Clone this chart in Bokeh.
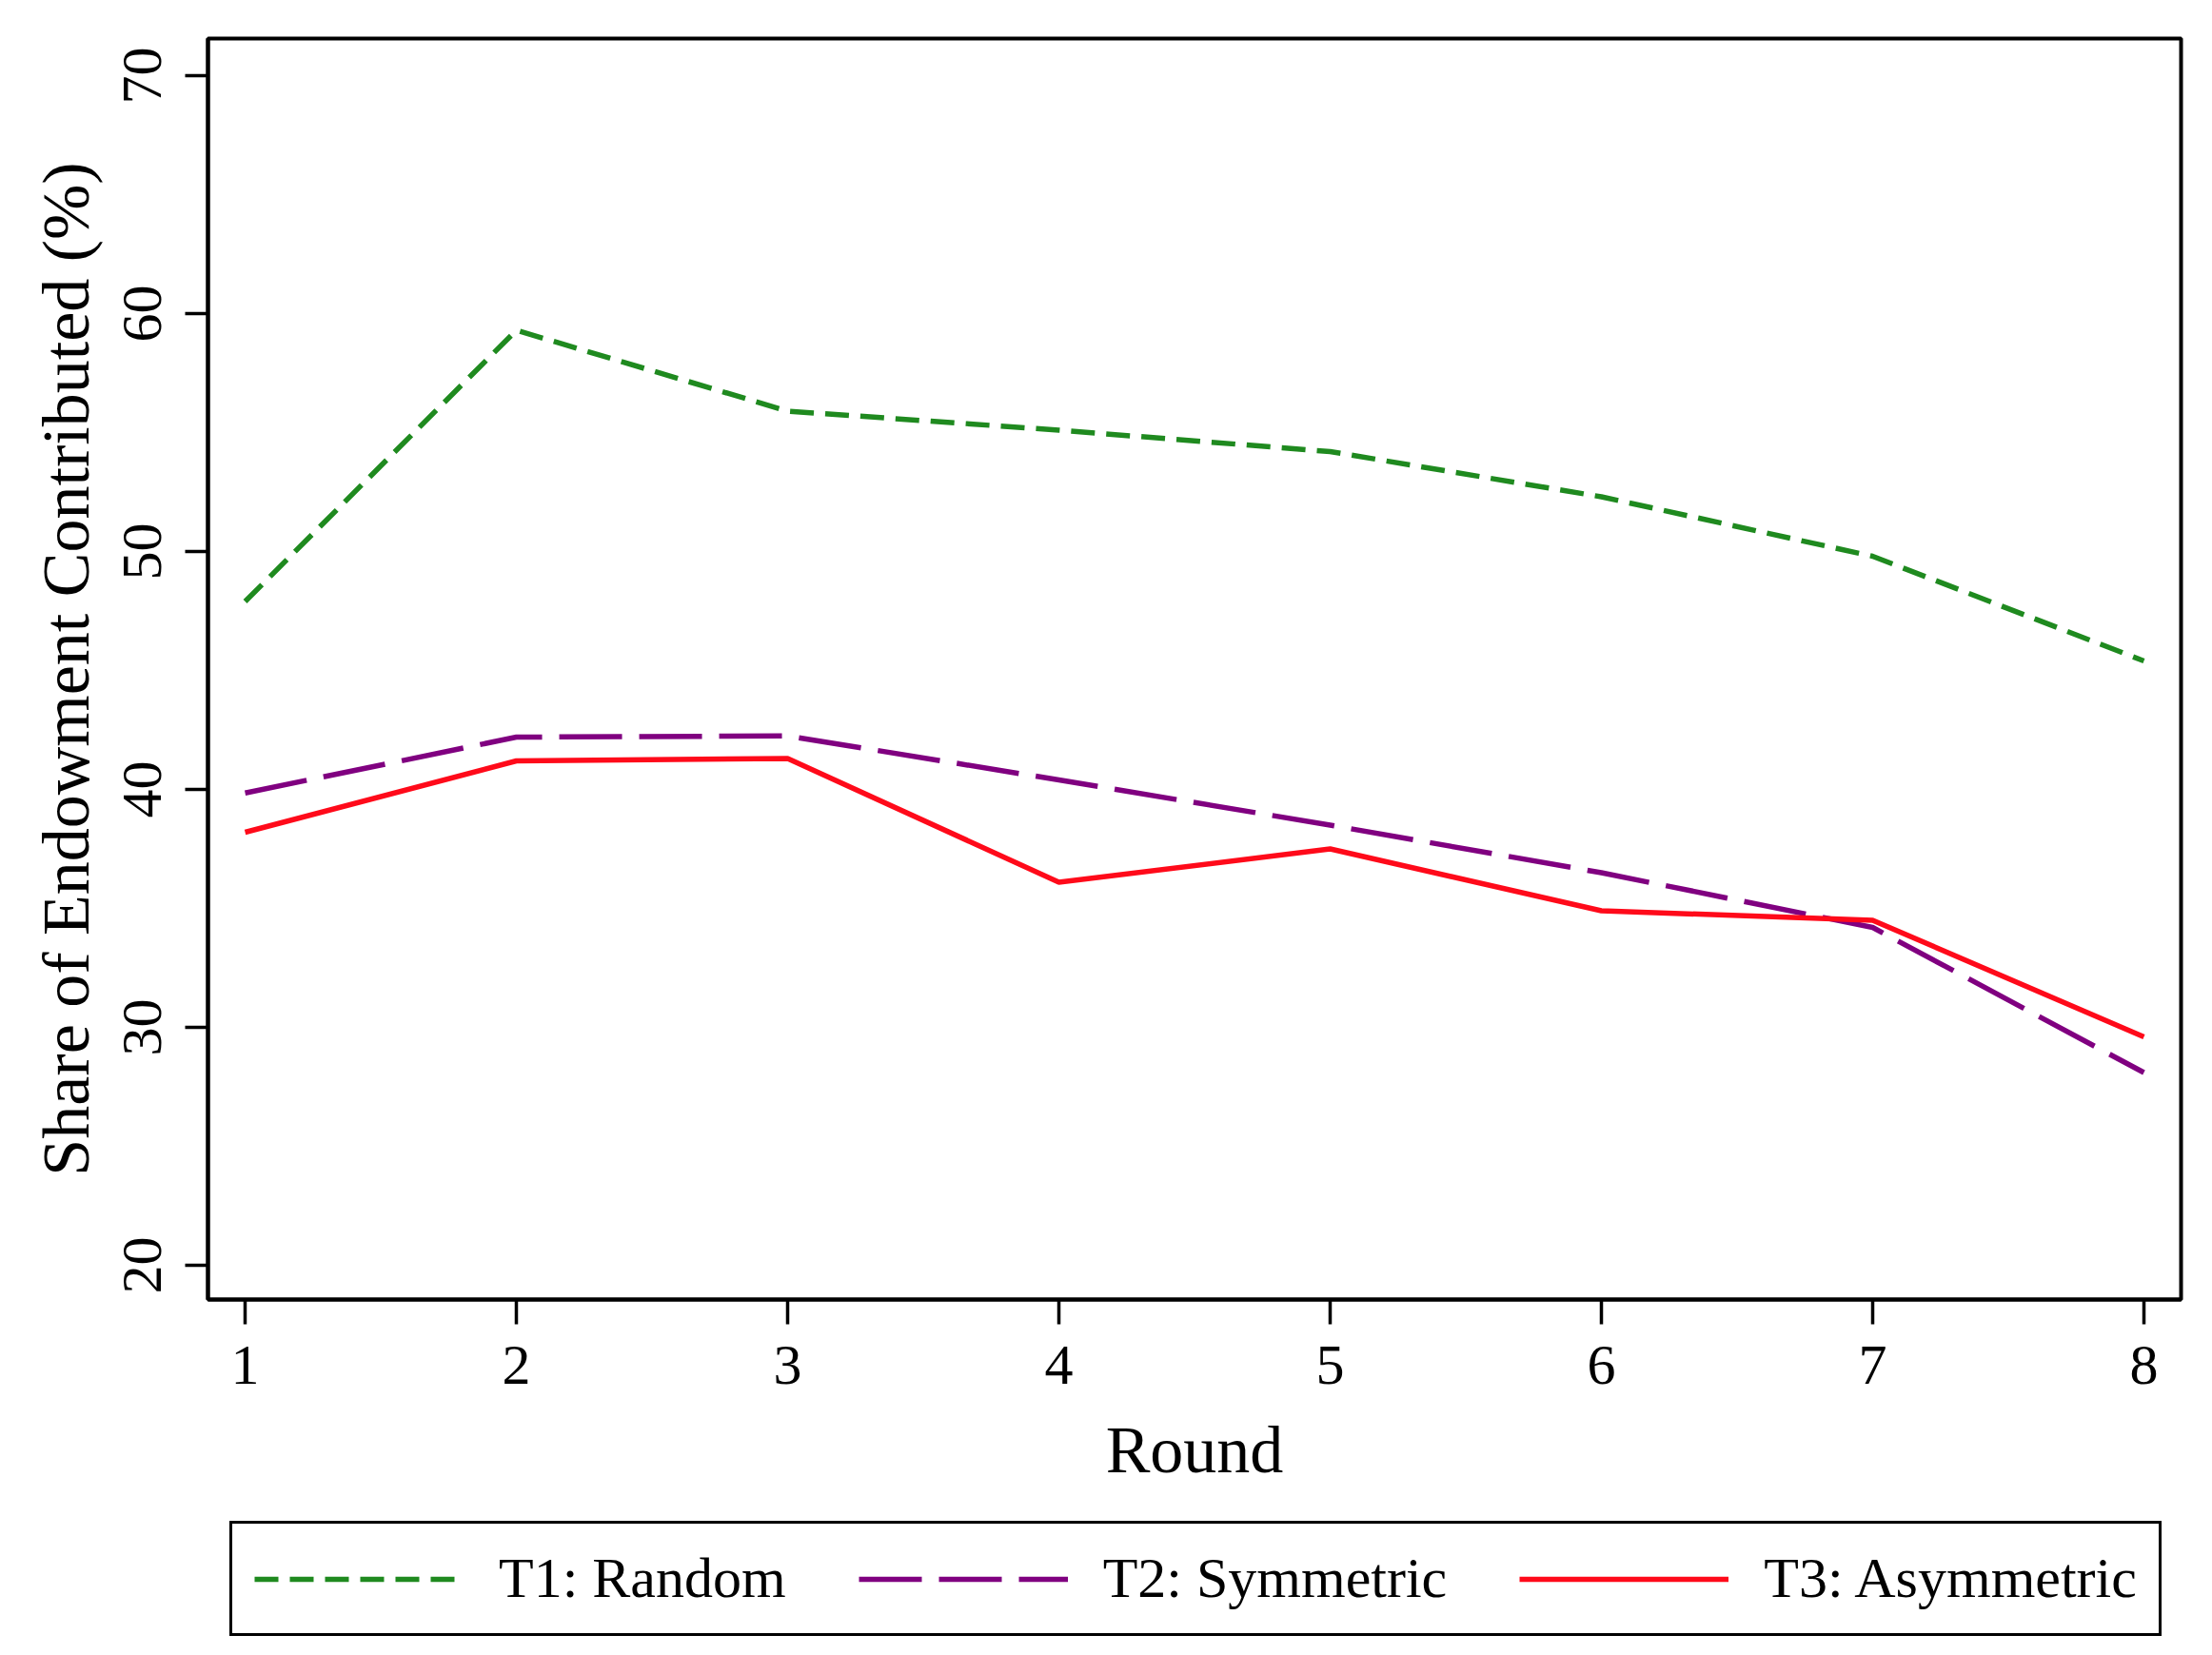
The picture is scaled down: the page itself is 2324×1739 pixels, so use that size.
from bokeh.plotting import figure
from bokeh.models import Range1d, Legend, LegendItem, FixedTicker
from bokeh.layouts import column
from bokeh.embed import file_html
from bokeh.resources import INLINE

rounds = [1, 2, 3, 4, 5, 6, 7, 8]
t1_random = [47.9, 59.3, 55.9, 55.1, 54.2, 52.3, 49.8, 45.4]
t2_symmetric = [39.85, 42.2, 42.25, 40.4, 38.5, 36.5, 34.2, 28.1]
t3_asymmetric = [38.2, 41.2, 41.3, 36.1, 37.5, 34.9, 34.5, 29.6]
y_ticks = [20, 30, 40, 50, 60, 70]
series_labels = ["T1: Random", "T2: Symmetric", "T3: Asymmetric"]

FONT = "Liberation Serif"
STYLES = [
    dict(line_color="#1f8a1f", line_width=5.5, line_dash="25 12"),
    dict(line_color="#800080", line_width=5.5, line_dash="66 18"),
    dict(line_color="#ff0a1a", line_width=5.5),
]

p = figure(frame_width=2073, frame_height=1325,
           min_border_left=218, min_border_right=25,
           min_border_top=40, min_border_bottom=220,
           x_range=Range1d(0.863, 8.137), y_range=Range1d(18.56, 71.56),
           output_backend="svg", toolbar_location=None,
           background_fill_color="white", border_fill_color="white")

p.xgrid.visible = False
p.ygrid.visible = False
p.outline_line_color = "black"
p.outline_line_width = 4

for ax in (p.xaxis[0], p.yaxis[0]):
    ax.axis_line_color = "black"
    ax.axis_line_width = 4
    ax.major_tick_line_color = "black"
    ax.major_tick_line_width = 3.5
    ax.major_tick_in = 0
    ax.minor_tick_line_color = None
    ax.major_label_text_font = FONT
    ax.major_label_text_font_size = "60px"
    ax.major_label_text_color = "black"
    ax.axis_label_text_font = FONT
    ax.axis_label_text_font_size = "70px"
    ax.axis_label_text_font_style = "normal"
    ax.axis_label_text_color = "black"

p.xaxis.ticker = FixedTicker(ticks=rounds)
p.yaxis.ticker = FixedTicker(ticks=y_ticks)
p.xaxis.major_tick_out = 26
p.yaxis.major_tick_out = 24
p.xaxis.major_label_standoff = 23
p.yaxis.major_label_standoff = 26
p.yaxis.major_label_orientation = "parallel"
p.xaxis.axis_label = "Round"
p.yaxis.axis_label = "Share of Endowment Contributed (%)"
p.xaxis.axis_label_standoff = 28
p.yaxis.axis_label_standoff = 19

series = [t1_random, t2_symmetric, t3_asymmetric]
for vals, st in zip(series, STYLES):
    p.line(rounds, vals, **st)

# Legend strip below the chart (its frame is aligned with the chart's frame)
q = figure(width=2316, height=150, min_border=0,
           x_range=Range1d(-10, -9), y_range=Range1d(0, 1),
           x_axis_type=None, y_axis_type=None,
           output_backend="svg", toolbar_location=None,
           background_fill_color="white", border_fill_color="white")
q.outline_line_color = None
q.xgrid.visible = False
q.ygrid.visible = False
items = []
for lab, vals, st in zip(series_labels, series, STYLES):
    r = q.line(rounds, vals, **st)  # off-screen; used only for legend swatches
    items.append(LegendItem(label=lab, renderers=[r]))

legend = Legend(items=items, orientation="horizontal", location=(23, 16),
                border_line_color="black", border_line_width=3.5,
                border_line_alpha=1.0,
                padding=23, spacing=76, glyph_width=220, label_standoff=37,
                label_text_font=FONT, label_text_font_size="60px",
                label_text_color="black", margin=0,
                background_fill_color="white", background_fill_alpha=1.0)
q.add_layout(legend, "center")

layout = column(p, q, spacing=0)
open("out.html", "w").write(file_html(layout, INLINE))
